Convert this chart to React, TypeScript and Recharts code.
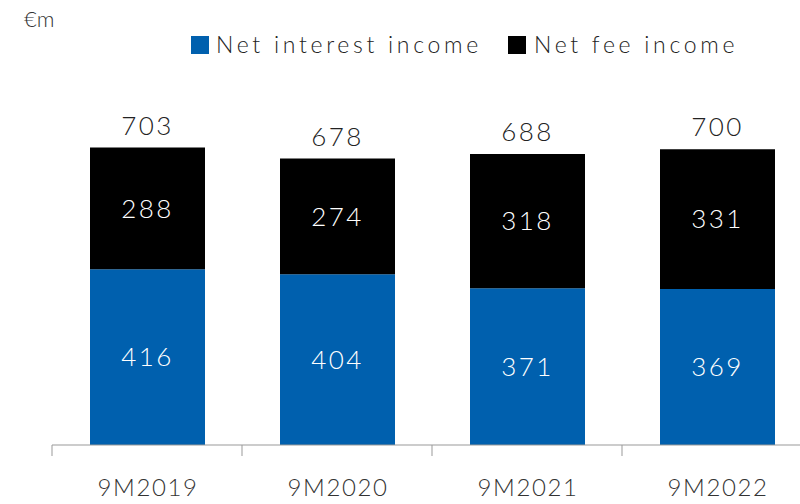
import React from "react";
import { BarChart, Bar, XAxis, YAxis, LabelList } from "recharts";

const categories = ["9M2019", "9M2020", "9M2021", "9M2022"];
const netInterestIncome = [416, 404, 371, 369];
const netFeeIncome = [288, 274, 318, 331];
const totals = [703, 678, 688, 700];
const seriesNames = ["Net interest income", "Net fee income"];

const data = categories.map((c, i) => ({
  name: c,
  nii: netInterestIncome[i],
  nfi: netFeeIncome[i],
  total: totals[i],
}));

const BLUE = "#0060AE";
const FONT = "Lato, 'Open Sans', sans-serif";
const WEIGHT = 300;

const Tick = (props: any) => {
  const { x, y, payload } = props;
  const half = 95;
  return (
    <g>
      <line x1={x - half} y1={y} x2={x - half} y2={y + 11} stroke="#999" strokeWidth={1} />
      <text
        x={x + 1}
        y={y}
        dy={51}
        textAnchor="middle"
        fill="#333"
        fontSize={24}
        fontWeight={WEIGHT}
        fontFamily={FONT}
        letterSpacing={1.6}
      >
        {payload.value}
      </text>
    </g>
  );
};

const labelStyle = {
  fontSize: 26,
  fontWeight: WEIGHT,
  fontFamily: FONT,
  letterSpacing: 2.5,
};

export default function App() {
  return (
    <div style={{ position: "absolute", left: 0, top: 0, width: 800, height: 504, overflow: "hidden", background: "#fff" }}>
      <div
        style={{
          position: "absolute",
          left: 24,
          top: 8,
          fontFamily: FONT,
          fontWeight: WEIGHT,
          fontSize: 22,
          lineHeight: "22px",
          color: "#333",
        }}
      >
        €m
      </div>
      <div
        style={{
          position: "absolute",
          left: 191,
          top: 33,
          display: "flex",
          alignItems: "center",
          fontFamily: FONT,
          fontWeight: WEIGHT,
          fontSize: 23,
          lineHeight: "23px",
          letterSpacing: 3.7,
          color: "#222",
          whiteSpace: "nowrap",
        }}
      >
        <span style={{ width: 18, height: 18, background: BLUE, display: "inline-block", marginRight: 7 }} />
        <span style={{ marginRight: 26 }}>{seriesNames[0]}</span>
        <span style={{ width: 18, height: 18, background: "#000", display: "inline-block", marginRight: 8 }} />
        <span>{seriesNames[1]}</span>
      </div>
      <BarChart
        width={830}
        height={504}
        data={data}
        margin={{ top: 107, right: 18, bottom: 29, left: 52 }}
        barSize={115}
      >
        <XAxis
          dataKey="name"
          height={30}
          axisLine={{ stroke: "#999", strokeWidth: 1 }}
          tickLine={false}
          tickSize={0}
          tickMargin={0}
          tick={<Tick />}
          interval={0}
        />
        <YAxis hide domain={[0, 800]} />
        <Bar dataKey="nii" name={seriesNames[0]} stackId="a" fill={BLUE} isAnimationActive={false}>
          <LabelList dataKey="nii" position="center" fill="#fff" {...labelStyle} />
        </Bar>
        <Bar dataKey="nfi" name={seriesNames[1]} stackId="a" fill="#000" isAnimationActive={false}>
          <LabelList dataKey="nfi" position="center" fill="#fff" {...labelStyle} />
          <LabelList dataKey="total" position="top" offset={13} fill="#222" {...labelStyle} />
        </Bar>
      </BarChart>
    </div>
  );
}
